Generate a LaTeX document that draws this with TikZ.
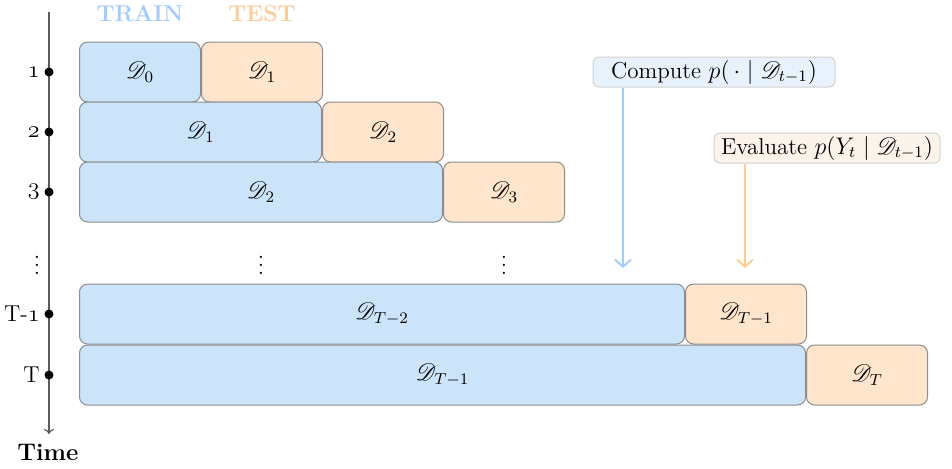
\documentclass[tikz,border=0pt]{standalone}
\usepackage{fontspec}
\usepackage{mathrsfs}
\usetikzlibrary{arrows.meta}

\definecolor{trainfill}{RGB}{204,228,250}
\definecolor{testfill}{RGB}{255,229,204}
\definecolor{boxgray}{RGB}{140,140,140}
\definecolor{trainink}{RGB}{163,204,255}
\definecolor{testink}{RGB}{255,204,153}
\definecolor{computefill}{RGB}{232,242,252}
\definecolor{evalfill}{RGB}{252,243,234}
\definecolor{calloutgray}{RGB}{210,210,210}
\definecolor{axisgray}{RGB}{90,90,90}

% old-style figures for the step labels
\newcommand{\osf}[1]{$\mathnormal{#1}$}

\tikzset{
  splitbox/.style={draw=boxgray, line width=0.5pt, rounded corners=4pt,
    minimum height=30pt, inner sep=0pt, anchor=west},
  trainbox/.style={splitbox, fill=trainfill},
  testbox/.style={splitbox, fill=testfill},
  callout/.style={draw=calloutgray, line width=0.5pt, rounded corners=3pt,
    minimum height=15pt, inner sep=0pt},
  steplabel/.style={anchor=east, inner sep=0pt},
  stepdot/.style={circle, fill=black, inner sep=0pt, minimum size=4.5pt},
  dotsmark/.style={inner sep=0pt},
  headlabel/.style={font=\fontsize{11.5}{13}\selectfont\bfseries},
  flow/.style={line width=1pt, -{Straight Barb[length=3.5pt,width=8pt]}},
}

\begin{document}
\begin{tikzpicture}[x=0.5pt, y=-0.5pt, font=\fontsize{11.5}{14}\selectfont]
  \useasboundingbox (0,0) rectangle (952,468);

  % time axis
  \coordinate (axtop) at (49,12);
  \coordinate (axbot) at (49,434);
  \draw[axisgray, line width=0.6pt, -{To[length=2.5pt,width=5pt]}] (axtop) -- (axbot);
  \node[font=\fontsize{12}{14}\selectfont\bfseries] (timelbl) at (48,452) {Time};

  % step markers
  \foreach \nm/\y/\lbl in {s1/72/\osf{1}, s2/132/\osf{2}, s3/192/\osf{3},
                           sTm/314/T-\osf{1}, sT/375/T}{
    \node[stepdot] (\nm) at (49,\y) {};
    \node[steplabel] (\nm lbl) at (40,\y) {\lbl};
  }
  \node[dotsmark] (vdaxis) at (37,259) {$\vdots$};

  % row 1
  \node[trainbox, minimum width=60.5pt] (tr1) at (79,72) {$\mathscr{D}_0$};
  \node[testbox, minimum width=60.5pt] (te1) at (tr1.east) {$\mathscr{D}_1$};
  % row 2
  \node[trainbox, minimum width=121pt] (tr2) at (79,132) {$\mathscr{D}_1$};
  \node[testbox, minimum width=60.5pt] (te2) at (tr2.east) {$\mathscr{D}_2$};
  % row 3
  \node[trainbox, minimum width=181.5pt] (tr3) at (79,192) {$\mathscr{D}_2$};
  \node[testbox, minimum width=60.5pt] (te3) at (tr3.east) {$\mathscr{D}_3$};
  % row T-1
  \node[trainbox, minimum width=302.5pt] (trTm) at (79,314) {$\mathscr{D}_{T-2}$};
  \node[testbox, minimum width=60.5pt] (teTm) at (trTm.east) {$\mathscr{D}_{T-1}$};
  % row T
  \node[trainbox, minimum width=363pt] (trT) at (79,375) {$\mathscr{D}_{T-1}$};
  \node[testbox, minimum width=60.5pt] (teT) at (trT.east) {$\mathscr{D}_{T}$};

  % ellipsis between rows
  \node[dotsmark] (vdtrain) at (tr3.center |- vdaxis) {$\vdots$};
  \node[dotsmark] (vdtest) at (te3.center |- vdaxis) {$\vdots$};

  % column headings
  \node[headlabel, text=trainink] (trainhead) at (tr1.center |- 0,14) {TRAIN};
  \node[headlabel, text=testink] (testhead) at (te1.center |- 0,14) {TEST};

  % callouts
  \node[callout, fill=computefill, minimum width=121pt] (cmp) at (714,72)
    {Compute $p(\,\cdot\mid\mathscr{D}_{t-1})$};
  \node[callout, fill=evalfill, minimum width=113pt] (evl) at (827,148)
    {Evaluate $p(Y_t\mid\mathscr{D}_{t-1})$};
  \coordinate (cmpend) at (623,268);
  \coordinate (evlend) at (745,268);
  \draw[flow, trainink] (cmp.south -| cmpend) -- (cmpend);
  \draw[flow, testink] (evl.south -| evlend) -- (evlend);
\end{tikzpicture}
\end{document}
